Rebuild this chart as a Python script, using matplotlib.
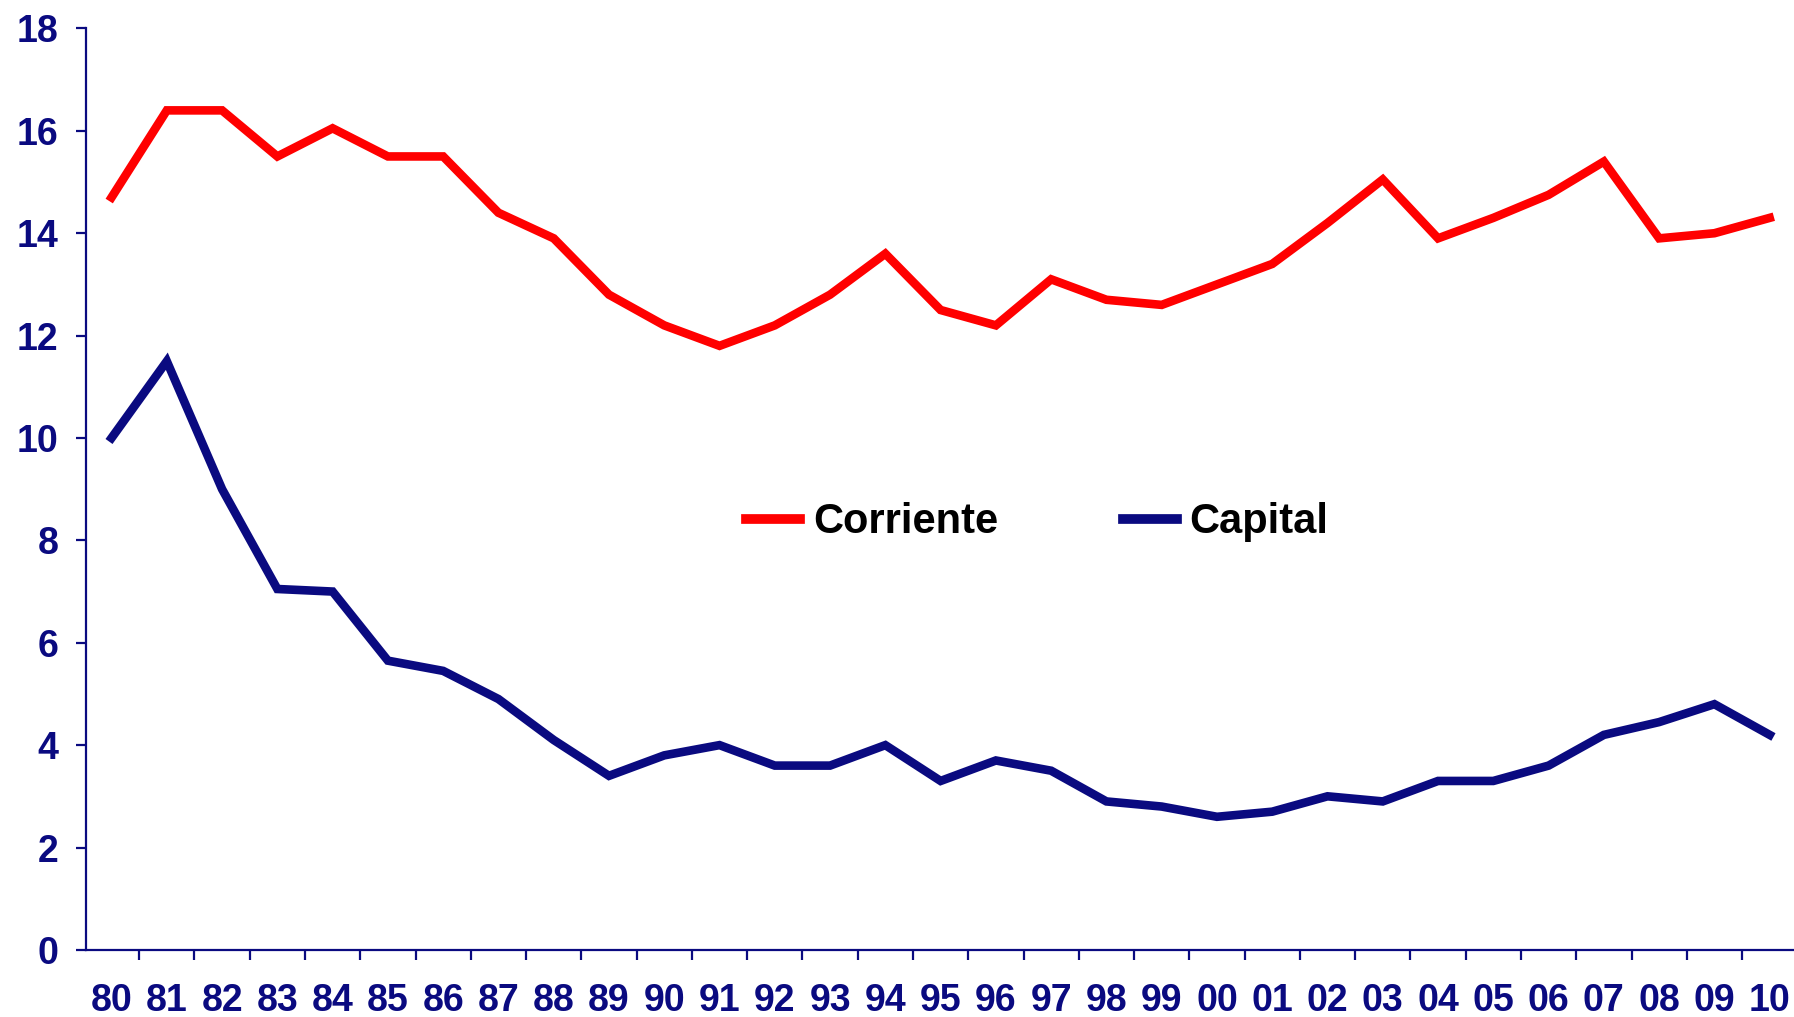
import numpy as np
import matplotlib
matplotlib.use("Agg")
import matplotlib.pyplot as plt
from matplotlib.ticker import FixedLocator


# -------------------------------------------------
# DATA
# -------------------------------------------------
years = ["80", "81", "82", "83", "84", "85", "86", "87", "88", "89",
         "90", "91", "92", "93", "94", "95", "96", "97", "98", "99",
         "00", "01", "02", "03", "04", "05", "06", "07", "08", "09", "10"]

corriente = [14.7, 16.4, 16.4, 15.5, 16.05, 15.5, 15.5, 14.4, 13.9, 12.8,
             12.2, 11.8, 12.2, 12.8, 13.6, 12.5, 12.2, 13.1, 12.7, 12.6,
             13.0, 13.4, 14.2, 15.05, 13.9, 14.3, 14.75, 15.4, 13.9, 14.0, 14.3]

capital = [10.0, 11.5, 9.0, 7.05, 7.0, 5.65, 5.45, 4.9, 4.1, 3.4,
           3.8, 4.0, 3.6, 3.6, 4.0, 3.3, 3.7, 3.5, 2.9, 2.8,
           2.6, 2.7, 3.0, 2.9, 3.3, 3.3, 3.6, 4.2, 4.45, 4.8, 4.2]

y_ticks = [0, 2, 4, 6, 8, 10, 12, 14, 16, 18]

navy = "#0a0a80"
red = "#ff0000"

plt.rcParams["font.family"] = ["Liberation Sans", "DejaVu Sans"]

# -------------------------------------------------
# PLOT
# -------------------------------------------------
fig = plt.figure(figsize=(17.94, 10.17), dpi=100)
ax = fig.add_axes([0.048, 0.066, 0.952, 0.906])

x = np.arange(len(years))

ax.plot(x, corriente, color=red, lw=6.2, label="Corriente", solid_joinstyle="miter")
ax.plot(x, capital, color=navy, lw=6.2, label="Capital", solid_joinstyle="miter")

ax.set_ylim(0, 18)
ax.set_xlim(-0.46, len(years) - 0.56)

# y axis
ax.set_yticks(y_ticks)
ax.set_yticklabels([str(v) for v in y_ticks])

# x axis: tick marks between categories, labels at centers
ax.xaxis.set_major_locator(FixedLocator(np.arange(len(years)) - 0.5))
ax.xaxis.set_major_formatter(plt.NullFormatter())
ax.xaxis.set_minor_locator(FixedLocator(x))
ax.set_xticklabels(years, minor=True)

for side in ["top", "right"]:
    ax.spines[side].set_visible(False)
for side in ["left", "bottom"]:
    ax.spines[side].set_color(navy)
    ax.spines[side].set_linewidth(1.6)

ax.tick_params(axis="y", which="major", direction="out", length=7, width=1.6,
               color=navy, labelcolor=navy, labelsize=27, pad=13)
ax.tick_params(axis="x", which="major", direction="out", length=7, width=1.6,
               color=navy)
ax.tick_params(axis="x", which="minor", length=0, labelcolor=navy,
               labelsize=27, pad=24)

for lab in ax.get_yticklabels() + ax.get_xticklabels(minor=True):
    lab.set_fontweight("bold")

leg = ax.legend(loc="center", bbox_to_anchor=(0.557, 0.464), ncol=2, frameon=False,
                prop={"size": 30, "weight": "bold"}, handlelength=1.3,
                handletextpad=0.3, columnspacing=3.0)
for line in leg.get_lines():
    line.set_linewidth(7)

fig.savefig("out.png", dpi=100, facecolor="white")
